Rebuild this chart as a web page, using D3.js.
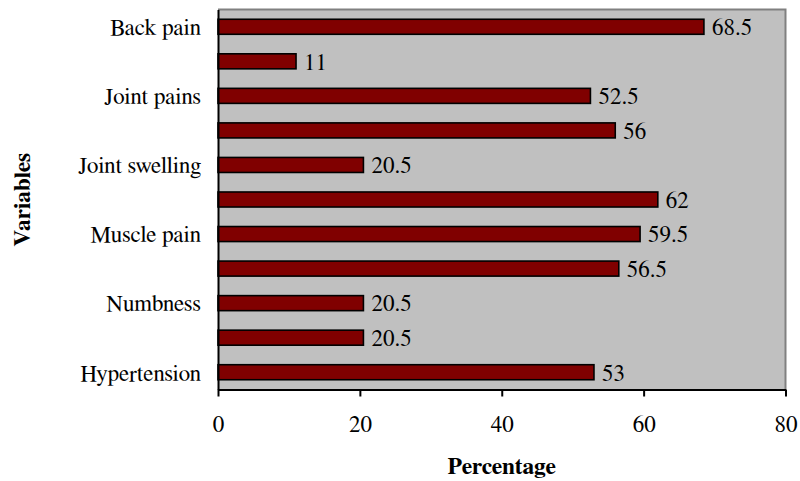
<!DOCTYPE html>
<html>
<head>
<meta charset="utf-8">
<script src="https://cdn.jsdelivr.net/npm/d3@7"></script>
<style>
  html, body { margin: 0; padding: 0; background: #fff; }
  svg { display: block; }
</style>
</head>
<body>
<svg id="chart" width="800" height="481"></svg>
<script>
// Categories listed top to bottom; only every other one carries a printed label.
const categoryLabels = ["Back pain", "", "Joint pains", "", "Joint swelling", "",
                        "Muscle pain", "", "Numbness", "", "Hypertension"];
const percentages = [68.5, 11, 52.5, 56, 20.5, 62, 59.5, 56.5, 20.5, 20.5, 53];
const xTicks = [0, 20, 40, 60, 80];
const xTitle = "Percentage";
const yTitle = "Variables";

const FONT = "FreeSerif, 'Liberation Serif', 'Times New Roman', serif";
const LABEL_SIZE = "23px";
const TITLE_SIZE = "23.5px";
const plot = { left: 218, top: 9.5, right: 785.5, bottom: 389.5 };
const svg = d3.select("#chart");

const x = d3.scaleLinear().domain([0, 80]).range([plot.left, plot.right]);
const y = d3.scaleBand()
  .domain(d3.range(percentages.length))
  .range([plot.top, plot.bottom])
  .paddingInner(1.3 / 2.3)
  .paddingOuter(1.3 / 2.3 / 2);

// plot area background
svg.append("rect")
  .attr("x", plot.left).attr("y", plot.top)
  .attr("width", plot.right - plot.left).attr("height", plot.bottom - plot.top)
  .attr("fill", "#c0c0c0");

// grey frame on the top and right
svg.append("path")
  .attr("d", `M${plot.left},${plot.top}H${plot.right}V${plot.bottom}`)
  .attr("fill", "none").attr("stroke", "#808080").attr("stroke-width", 2);

// bars
svg.append("g").selectAll("rect")
  .data(percentages)
  .join("rect")
  .attr("x", x(0))
  .attr("y", (d, i) => y(i))
  .attr("width", d => x(d) - x(0))
  .attr("height", y.bandwidth())
  .attr("fill", "#800000")
  .attr("stroke", "#000")
  .attr("stroke-width", 1.6);

// value labels
svg.append("g").selectAll("text")
  .data(percentages)
  .join("text")
  .attr("x", d => x(d) + 8)
  .attr("y", (d, i) => y(i) + y.bandwidth() / 2)
  .attr("dy", "0.36em")
  .style("font-family", FONT)
  .style("font-size", LABEL_SIZE)
  .style("fill", "#000")
  .text(d => d);

// x axis
const xAxis = svg.append("g")
  .attr("transform", `translate(0,${plot.bottom})`)
  .call(d3.axisBottom(x).tickValues(xTicks).tickSize(7).tickSizeOuter(0).tickPadding(19));
xAxis.select(".domain").attr("stroke", "#000").attr("stroke-width", 2);
xAxis.selectAll(".tick line").attr("stroke", "#000").attr("stroke-width", 2);
xAxis.selectAll(".tick text")
  .style("font-family", FONT)
  .style("font-size", LABEL_SIZE).style("fill", "#000");

// y axis (no tick marks)
const yAxis = svg.append("g")
  .attr("transform", `translate(${plot.left},0)`)
  .call(d3.axisLeft(y).tickSize(0).tickPadding(17).tickFormat(i => categoryLabels[i]));
yAxis.select(".domain").attr("stroke", "#000").attr("stroke-width", 2);
yAxis.selectAll(".tick text")
  .attr("dy", "0.36em")
  .style("font-family", FONT)
  .style("font-size", LABEL_SIZE).style("fill", "#000");

// axis titles
svg.append("text")
  .attr("x", (plot.left + plot.right) / 2)
  .attr("y", 474)
  .attr("text-anchor", "middle")
  .style("font-family", FONT)
  .style("font-weight", "bold")
  .style("font-size", TITLE_SIZE)
  .text(xTitle);

svg.append("text")
  .attr("transform", `translate(29.5,${(plot.top + plot.bottom) / 2}) rotate(-90)`)
  .attr("text-anchor", "middle")
  .style("font-family", FONT)
  .style("font-weight", "bold")
  .style("font-size", TITLE_SIZE)
  .text(yTitle);
</script>
</body>
</html>
